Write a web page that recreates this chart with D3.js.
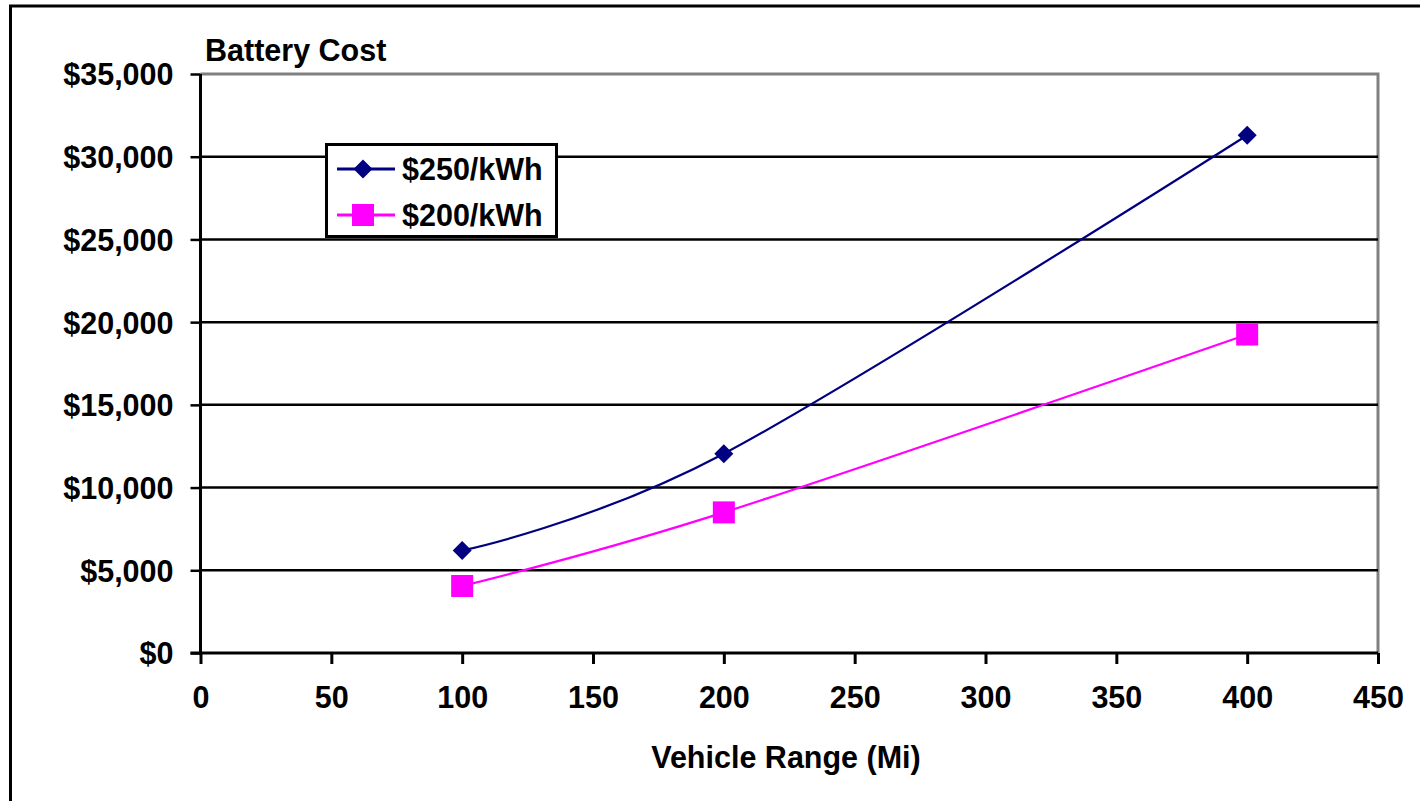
<!DOCTYPE html>
<html>
<head>
<meta charset="utf-8">
<script src="https://cdn.jsdelivr.net/npm/d3@7"></script>
<style>
  html, body { margin: 0; padding: 0; background: #fff; }
  svg { display: block; }
  text { font-family: "Liberation Sans", Arial, sans-serif; font-weight: bold; fill: #000; }
</style>
</head>
<body>
<svg id="chart" width="1420" height="801"></svg>
<script>
// Battery cost by vehicle range at two battery pack prices
const ranges = [100, 200, 400];
const cost250 = [6200, 12050, 31300];
const cost200 = [4050, 8500, 19250];
const seriesNames = ["$250/kWh", "$200/kWh"];
const seriesColors = ["#000080", "#ff00ff"];
const xTicks = [0, 50, 100, 150, 200, 250, 300, 350, 400, 450];
const yTicks = [0, 5000, 10000, 15000, 20000, 25000, 30000, 35000];

const svg = d3.select("#chart");

const x = d3.scaleLinear().domain([0, 450]).range([200.5, 1378]);
const y = d3.scaleLinear().domain([0, 35000]).range([653, 74]);

// Outer chart frame (only left and top edges fall inside the view)
svg.append("rect")
  .attr("x", 10.5).attr("y", 6)
  .attr("width", 1500).attr("height", 900)
  .attr("fill", "none").attr("stroke", "#000").attr("stroke-width", 3);

// Plot area border (top and right, grey)
svg.append("path")
  .attr("d", `M${x(0)},${y(35000)}H${x(450)}V${y(0)}`)
  .attr("fill", "none").attr("stroke", "#808080").attr("stroke-width", 3);

// Horizontal gridlines
svg.append("g").selectAll("line")
  .data(yTicks.filter(d => d > 0 && d < 35000))
  .join("line")
  .attr("x1", x(0)).attr("x2", x(450))
  .attr("y1", d => y(d)).attr("y2", d => y(d))
  .attr("stroke", "#000").attr("stroke-width", 2.5);

// Y axis
const fmt = d => "$" + d3.format(",")(d);
const yAxis = svg.append("g")
  .attr("transform", `translate(${x(0)},0)`)
  .call(d3.axisLeft(y).tickValues(yTicks).tickFormat(fmt).tickSize(10).tickPadding(17));
yAxis.select(".domain").attr("stroke", "#000").attr("stroke-width", 3)
  .attr("d", `M0,${y(35000)}V${y(0) + 2}`);
yAxis.selectAll(".tick line").attr("stroke", "#000").attr("stroke-width", 2.5);
yAxis.selectAll(".tick text").attr("font-size", 30.5).attr("dy", "0.36em")
  .style("font-family", "'Liberation Sans', Arial, sans-serif").style("font-weight", "bold");

// X axis
const xAxis = svg.append("g")
  .attr("transform", `translate(0,${y(0)})`)
  .call(d3.axisBottom(x).tickValues(xTicks).tickSize(11).tickPadding(22));
xAxis.select(".domain").attr("stroke", "#000").attr("stroke-width", 3)
  .attr("d", `M${x(0) - 10},0H${x(450)}`);
xAxis.selectAll(".tick line").attr("stroke", "#000").attr("stroke-width", 3);
xAxis.selectAll(".tick text").attr("font-size", 30.5)
  .style("font-family", "'Liberation Sans', Arial, sans-serif").style("font-weight", "bold");

// Titles
svg.append("text").attr("x", 205).attr("y", 61).attr("font-size", 30.5).text("Battery Cost");
svg.append("text").attr("x", (649 + 923) / 2).attr("y", 768)
  .attr("text-anchor", "middle").attr("font-size", 30.5).text("Vehicle Range (Mi)");

// Series lines (smoothed)
const line = d3.line()
  .x(d => x(d[0])).y(d => y(d[1]))
  .curve(d3.curveCardinal.tension(0));

const series = [cost250, cost200].map((vals, i) => ({
  name: seriesNames[i], color: seriesColors[i],
  points: ranges.map((r, j) => [r, vals[j]])
}));

series.forEach(s => {
  svg.append("path")
    .attr("d", line(s.points))
    .attr("fill", "none").attr("stroke", s.color).attr("stroke-width", 2.2);
});

// Markers
const diamond = (cx, cy, r) => `M${cx},${cy - r}L${cx + r},${cy}L${cx},${cy + r}L${cx - r},${cy}Z`;
svg.append("g").selectAll("path")
  .data(series[0].points).join("path")
  .attr("d", d => diamond(x(d[0]), y(d[1]), 9.5))
  .attr("fill", seriesColors[0]);
svg.append("g").selectAll("rect")
  .data(series[1].points).join("rect")
  .attr("x", d => x(d[0]) - 11).attr("y", d => y(d[1]) - 11)
  .attr("width", 22).attr("height", 22)
  .attr("fill", seriesColors[1]);

// Legend
const lg = svg.append("g");
lg.append("rect")
  .attr("x", 326.5).attr("y", 144.5).attr("width", 230).attr("height", 92)
  .attr("fill", "#fff").attr("stroke", "#000").attr("stroke-width", 3);
const rowsY = [169, 215];
series.forEach((s, i) => {
  const cy = rowsY[i];
  lg.append("line").attr("x1", 337).attr("x2", 395).attr("y1", cy).attr("y2", cy)
    .attr("stroke", s.color).attr("stroke-width", 3);
  if (i === 0) {
    lg.append("path").attr("d", diamond(363, cy, 9.5)).attr("fill", s.color);
  } else {
    lg.append("rect").attr("x", 352).attr("y", cy - 11).attr("width", 22).attr("height", 22)
      .attr("fill", s.color);
  }
  lg.append("text").attr("x", 402).attr("y", cy + 11).attr("font-size", 30.5).text(s.name);
});
</script>
</body>
</html>
